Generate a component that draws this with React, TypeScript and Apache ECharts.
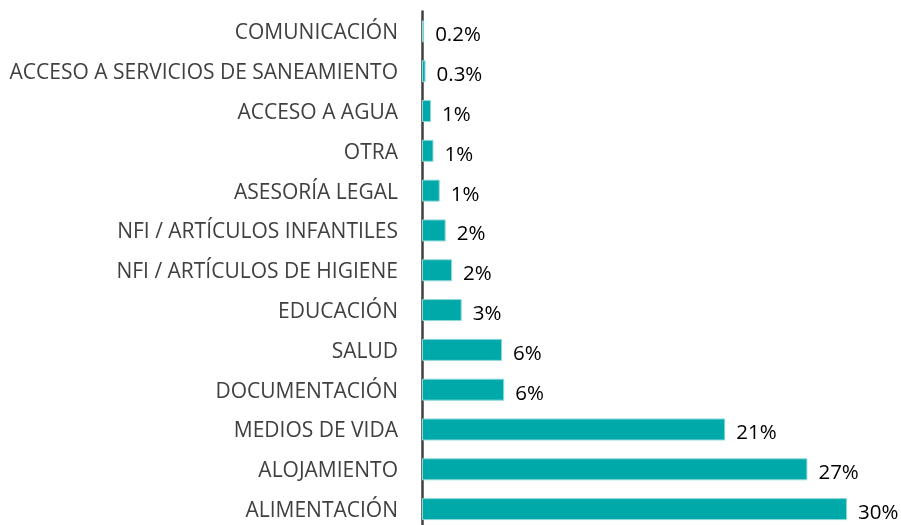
import React, { useEffect, useRef } from "react";
import * as echarts from "echarts";

const categories = [
  "COMUNICACIÓN",
  "ACCESO A SERVICIOS DE SANEAMIENTO",
  "ACCESO A AGUA",
  "OTRA",
  "ASESORÍA LEGAL",
  "NFI / ARTÍCULOS INFANTILES",
  "NFI / ARTÍCULOS DE HIGIENE",
  "EDUCACIÓN",
  "SALUD",
  "DOCUMENTACIÓN",
  "MEDIOS DE VIDA",
  "ALOJAMIENTO",
  "ALIMENTACIÓN",
];
const values = [0.15, 0.25, 0.64, 0.81, 1.25, 1.67, 2.12, 2.8, 5.65, 5.8, 21.4, 27.2, 30.0];
const valueLabels = ["0.2%", "0.3%", "1%", "1%", "1%", "2%", "2%", "3%", "6%", "6%", "21%", "27%", "30%"];

export default function App() {
  const ref = useRef<HTMLDivElement>(null);
  useEffect(() => {
    const chart = echarts.init(ref.current!, null, { renderer: "svg" });
    chart.setOption({
      animation: false,
      grid: { left: 422, right: 11.4, top: 11.5, bottom: 1, containLabel: false },
      xAxis: {
        type: "value",
        min: 0,
        max: 33,
        show: false,
      },
      yAxis: {
        type: "category",
        data: categories,
        inverse: true,
        axisLine: { show: true, lineStyle: { color: "#404040", width: 2.5 } },
        axisTick: { show: false },
        axisLabel: {
          margin: 24,
          color: "#404040",
          fontFamily: "Open Sans",
          fontSize: 21,
        },
        splitLine: { show: false },
      },
      series: [
        {
          type: "bar",
          data: values,
          barWidth: 22,
          itemStyle: { color: "#00A9A9", borderColor: "#8ed8d8", borderWidth: 1 },
          label: {
            show: true,
            position: "right",
            distance: 11,
            offset: [0, 2],
            color: "#000000",
            fontFamily: "Open Sans",
            fontSize: 20.5,
            formatter: (p: any) => valueLabels[p.dataIndex],
          },
        },
      ],
    });
    return () => chart.dispose();
  }, []);
  return (
    <div
      ref={ref}
      style={{ position: "fixed", left: 0, top: 0, width: 901, height: 530 }}
    />
  );
}
